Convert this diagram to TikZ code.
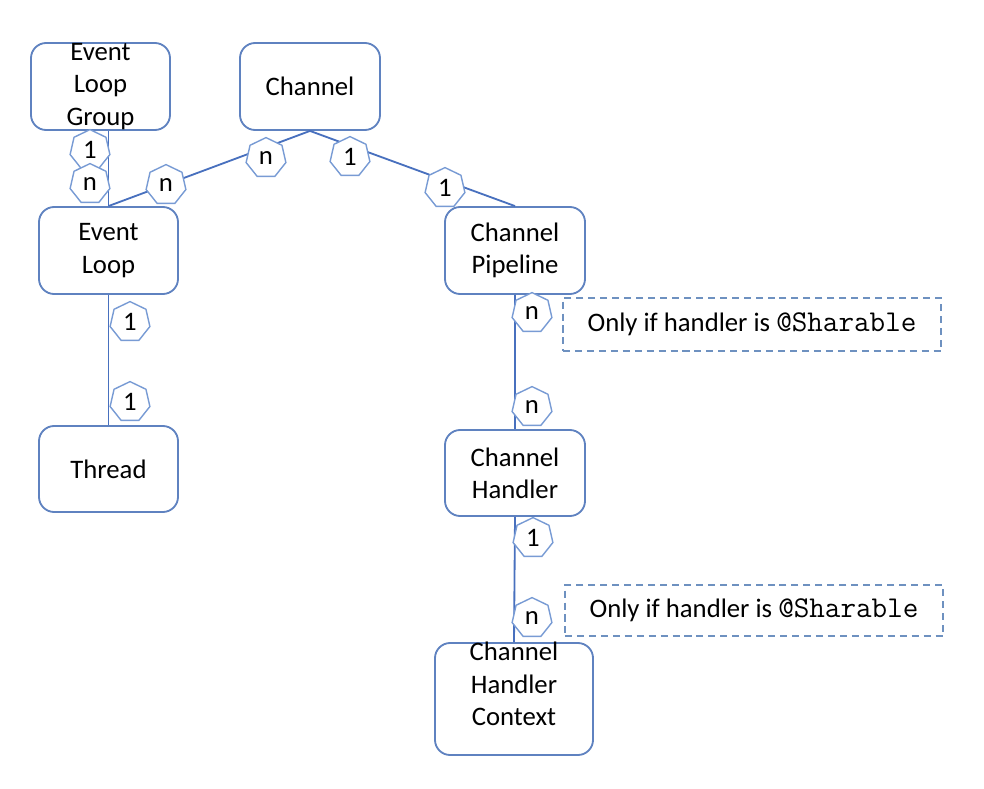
\documentclass[tikz,border=0pt]{standalone}
\usepackage{fontspec}
\setmainfont{Carlito}
\usetikzlibrary{positioning, calc, shapes}
\definecolor{boxblue}{RGB}{95,130,192}
\definecolor{lineblue}{RGB}{72,112,190}
\definecolor{multblue}{RGB}{120,155,212}
\definecolor{noteblue}{RGB}{110,145,192}
\newcommand{\annot}[1]{{\fontsize{21.5}{23}\selectfont\ttfamily #1}}
\tikzset{bigtext/.style={font=\fontsize{19}{23}\selectfont, align=center}}
\tikzset{entity/.style={draw=boxblue, line width=1.3pt, rounded corners=0.38cm, inner sep=0pt, bigtext}}
\tikzset{mult/.style={regular polygon, regular polygon sides=7, draw=multblue, fill=white, line width=1pt, minimum size=1.02cm, inner sep=0pt, bigtext}}
\tikzset{note/.style={draw=noteblue, dashed, dash pattern=on 5pt off 3.5pt, line width=1pt, minimum width=9.45cm, inner sep=0pt, bigtext}}
\tikzset{link/.style={draw=lineblue, line width=1.3pt}}

\begin{document}
\begin{tikzpicture}[x=0.025cm, y=-0.025cm]
      \useasboundingbox (0,0) rectangle (984,788);

      % boxes
      \node[entity, minimum width=3.475cm, minimum height=2.175cm] (elg) at (100.5,86.5)
        [label={[bigtext]center:Event\\Loop\\Group}] {};
      \node[entity, minimum width=3.5cm, minimum height=2.175cm] (ch) at (310,86.5) {Channel};
      \node[entity, minimum width=3.475cm, minimum height=2.175cm] (el) at (108.5,250.5) {Event\\Loop};
      \node[entity, minimum width=3.5cm, minimum height=2.175cm] (cp) at (515,250.5) {Channel\\Pipeline};
      \node[entity, minimum width=3.475cm, minimum height=2.15cm] (thr) at (108.5,469) {Thread};
      \node[entity, minimum width=3.5cm, minimum height=2.15cm] (chh) at (515,473) {Channel\\Handler};
      \node[entity, minimum width=3.95cm, minimum height=2.8cm] (chc) at (514,699)
        [label={[bigtext, yshift=0.375cm]center:Channel\\Handler\\Context}] {};

      % connectors
      \coordinate (elgfoot) at (el.north |- elg.south);
      \draw[link] (elgfoot) -- (el.north);
      \draw[link] (ch.south) -- (el.north);
      \draw[link] (ch.south) -- (cp.north);
      \draw[link] (el.south) -- (thr.north);
      \draw[link] (cp.south) -- (chh.north);
      \draw[link] (chh.south) -- (chc.north);

      % multiplicities
      \node[mult] (m1) at (90,150) {1};
      \node[mult] (m2) at (90,184) {n};
      \node[mult] (m3) at (166,185) {n};
      \node[mult] (m4) at (266,158) {n};
      \node[mult] (m5) at (350,157) {1};
      \node[mult] (m6) at (445,188) {1};
      \node[mult] (m7) at (130,322) {1};
      \node[mult] (m8) at (130,402) {1};
      \node[mult] (m9) at (532,313) {n};
      \node[mult] (m10) at (532,407) {n};
      \node[mult] (m11) at (533,538) {1};
      \node[mult] (m12) at (532,618) {n};

      % notes
      \node[note, minimum height=1.325cm] (note1) at (752,324.5) {Only if handler is \annot{@Sharable}};
      \node[note, minimum height=1.275cm] (note2) at (754,610.5) {Only if handler is \annot{@Sharable}};
\end{tikzpicture}
\end{document}
